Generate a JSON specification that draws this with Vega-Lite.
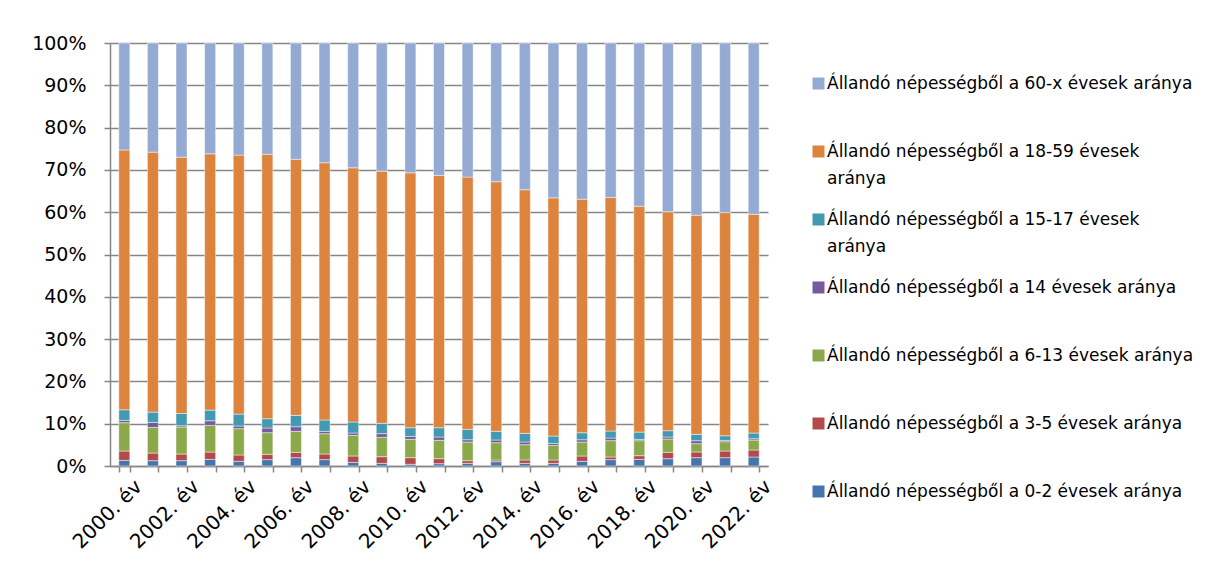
{
  "$schema": "https://vega.github.io/schema/vega-lite/v6.json",
  "width": 658,
  "height": 423,
  "autosize": {"type": "none"},
  "padding": {"left": 110, "top": 43, "right": 441, "bottom": 115},
  "background": "white",
  "config": {"font": "DejaVu Sans", "view": {"stroke": null}, "style": {"guide-label": {"lineHeight": 27}}},
  "data": {"values": [
    {"ev":"2000. év","kor":"0-2","o":0,"v":1.34},{"ev":"2000. év","kor":"3-5","o":1,"v":2.2},{"ev":"2000. év","kor":"6-13","o":2,"v":6.7},{"ev":"2000. év","kor":"14","o":3,"v":0.55},{"ev":"2000. év","kor":"15-17","o":4,"v":2.5},{"ev":"2000. év","kor":"18-59","o":5,"v":61.4},{"ev":"2000. év","kor":"60-x","o":6,"v":25.3},
    {"ev":"2001. év","kor":"0-2","o":0,"v":1.26},{"ev":"2001. év","kor":"3-5","o":1,"v":1.8},{"ev":"2001. év","kor":"6-13","o":2,"v":6.06},{"ev":"2001. év","kor":"14","o":3,"v":1.18},{"ev":"2001. év","kor":"15-17","o":4,"v":2.44},{"ev":"2001. év","kor":"18-59","o":5,"v":61.45},{"ev":"2001. év","kor":"60-x","o":6,"v":25.8},
    {"ev":"2002. év","kor":"0-2","o":0,"v":1.26},{"ev":"2002. év","kor":"3-5","o":1,"v":1.57},{"ev":"2002. év","kor":"6-13","o":2,"v":6.38},{"ev":"2002. év","kor":"14","o":3,"v":0.31},{"ev":"2002. év","kor":"15-17","o":4,"v":2.9},{"ev":"2002. év","kor":"18-59","o":5,"v":60.6},{"ev":"2002. év","kor":"60-x","o":6,"v":27.0},
    {"ev":"2003. év","kor":"0-2","o":0,"v":1.57},{"ev":"2003. év","kor":"3-5","o":1,"v":1.73},{"ev":"2003. év","kor":"6-13","o":2,"v":6.3},{"ev":"2003. év","kor":"14","o":3,"v":1.1},{"ev":"2003. év","kor":"15-17","o":4,"v":2.52},{"ev":"2003. év","kor":"18-59","o":5,"v":60.6},{"ev":"2003. év","kor":"60-x","o":6,"v":26.2},
    {"ev":"2004. év","kor":"0-2","o":0,"v":1.1},{"ev":"2004. év","kor":"3-5","o":1,"v":1.5},{"ev":"2004. év","kor":"6-13","o":2,"v":6.22},{"ev":"2004. év","kor":"14","o":3,"v":0.63},{"ev":"2004. év","kor":"15-17","o":4,"v":2.83},{"ev":"2004. év","kor":"18-59","o":5,"v":61.2},{"ev":"2004. év","kor":"60-x","o":6,"v":26.5},
    {"ev":"2005. év","kor":"0-2","o":0,"v":1.5},{"ev":"2005. év","kor":"3-5","o":1,"v":1.26},{"ev":"2005. év","kor":"6-13","o":2,"v":5.12},{"ev":"2005. év","kor":"14","o":3,"v":1.1},{"ev":"2005. év","kor":"15-17","o":4,"v":2.2},{"ev":"2005. év","kor":"18-59","o":5,"v":62.5},{"ev":"2005. év","kor":"60-x","o":6,"v":26.3},
    {"ev":"2006. év","kor":"0-2","o":0,"v":1.97},{"ev":"2006. év","kor":"3-5","o":1,"v":1.26},{"ev":"2006. év","kor":"6-13","o":2,"v":4.96},{"ev":"2006. év","kor":"14","o":3,"v":1.1},{"ev":"2006. év","kor":"15-17","o":4,"v":2.68},{"ev":"2006. év","kor":"18-59","o":5,"v":60.5},{"ev":"2006. év","kor":"60-x","o":6,"v":27.5},
    {"ev":"2007. év","kor":"0-2","o":0,"v":1.5},{"ev":"2007. év","kor":"3-5","o":1,"v":1.34},{"ev":"2007. év","kor":"6-13","o":2,"v":4.8},{"ev":"2007. év","kor":"14","o":3,"v":0.55},{"ev":"2007. év","kor":"15-17","o":4,"v":2.68},{"ev":"2007. év","kor":"18-59","o":5,"v":60.8},{"ev":"2007. év","kor":"60-x","o":6,"v":28.3},
    {"ev":"2008. év","kor":"0-2","o":0,"v":0.87},{"ev":"2008. év","kor":"3-5","o":1,"v":1.5},{"ev":"2008. év","kor":"6-13","o":2,"v":4.88},{"ev":"2008. év","kor":"14","o":3,"v":0.55},{"ev":"2008. év","kor":"15-17","o":4,"v":2.6},{"ev":"2008. év","kor":"18-59","o":5,"v":60.1},{"ev":"2008. év","kor":"60-x","o":6,"v":29.5},
    {"ev":"2009. év","kor":"0-2","o":0,"v":0.63},{"ev":"2009. év","kor":"3-5","o":1,"v":1.57},{"ev":"2009. év","kor":"6-13","o":2,"v":4.57},{"ev":"2009. év","kor":"14","o":3,"v":0.87},{"ev":"2009. év","kor":"15-17","o":4,"v":2.44},{"ev":"2009. év","kor":"18-59","o":5,"v":59.6},{"ev":"2009. év","kor":"60-x","o":6,"v":30.3},
    {"ev":"2010. év","kor":"0-2","o":0,"v":0.4},{"ev":"2010. év","kor":"3-5","o":1,"v":1.57},{"ev":"2010. év","kor":"6-13","o":2,"v":4.33},{"ev":"2010. év","kor":"14","o":3,"v":0.7},{"ev":"2010. év","kor":"15-17","o":4,"v":2.05},{"ev":"2010. év","kor":"18-59","o":5,"v":60.25},{"ev":"2010. év","kor":"60-x","o":6,"v":30.7},
    {"ev":"2011. év","kor":"0-2","o":0,"v":0.55},{"ev":"2011. év","kor":"3-5","o":1,"v":1.18},{"ev":"2011. év","kor":"6-13","o":2,"v":4.33},{"ev":"2011. év","kor":"14","o":3,"v":0.79},{"ev":"2011. év","kor":"15-17","o":4,"v":2.2},{"ev":"2011. év","kor":"18-59","o":5,"v":59.65},{"ev":"2011. év","kor":"60-x","o":6,"v":31.3},
    {"ev":"2012. év","kor":"0-2","o":0,"v":0.63},{"ev":"2012. év","kor":"3-5","o":1,"v":0.63},{"ev":"2012. év","kor":"6-13","o":2,"v":4.4},{"ev":"2012. év","kor":"14","o":3,"v":0.55},{"ev":"2012. év","kor":"15-17","o":4,"v":2.44},{"ev":"2012. év","kor":"18-59","o":5,"v":59.65},{"ev":"2012. év","kor":"60-x","o":6,"v":31.7},
    {"ev":"2013. év","kor":"0-2","o":0,"v":1.02},{"ev":"2013. év","kor":"3-5","o":1,"v":0.4},{"ev":"2013. év","kor":"6-13","o":2,"v":4.1},{"ev":"2013. év","kor":"14","o":3,"v":0.63},{"ev":"2013. év","kor":"15-17","o":4,"v":2.05},{"ev":"2013. év","kor":"18-59","o":5,"v":59.0},{"ev":"2013. év","kor":"60-x","o":6,"v":32.8},
    {"ev":"2014. év","kor":"0-2","o":0,"v":0.63},{"ev":"2014. év","kor":"3-5","o":1,"v":0.79},{"ev":"2014. év","kor":"6-13","o":2,"v":3.62},{"ev":"2014. év","kor":"14","o":3,"v":0.63},{"ev":"2014. év","kor":"15-17","o":4,"v":2.05},{"ev":"2014. év","kor":"18-59","o":5,"v":57.6},{"ev":"2014. év","kor":"60-x","o":6,"v":34.7},
    {"ev":"2015. év","kor":"0-2","o":0,"v":0.63},{"ev":"2015. év","kor":"3-5","o":1,"v":0.79},{"ev":"2015. év","kor":"6-13","o":2,"v":3.46},{"ev":"2015. év","kor":"14","o":3,"v":0.47},{"ev":"2015. év","kor":"15-17","o":4,"v":1.73},{"ev":"2015. év","kor":"18-59","o":5,"v":56.3},{"ev":"2015. év","kor":"60-x","o":6,"v":36.6},
    {"ev":"2016. év","kor":"0-2","o":0,"v":1.1},{"ev":"2016. év","kor":"3-5","o":1,"v":1.26},{"ev":"2016. év","kor":"6-13","o":2,"v":3.3},{"ev":"2016. év","kor":"14","o":3,"v":0.55},{"ev":"2016. év","kor":"15-17","o":4,"v":1.65},{"ev":"2016. év","kor":"18-59","o":5,"v":55.2},{"ev":"2016. év","kor":"60-x","o":6,"v":36.9},
    {"ev":"2017. év","kor":"0-2","o":0,"v":1.5},{"ev":"2017. év","kor":"3-5","o":1,"v":0.63},{"ev":"2017. év","kor":"6-13","o":2,"v":3.86},{"ev":"2017. év","kor":"14","o":3,"v":0.63},{"ev":"2017. év","kor":"15-17","o":4,"v":1.65},{"ev":"2017. év","kor":"18-59","o":5,"v":55.2},{"ev":"2017. év","kor":"60-x","o":6,"v":36.5},
    {"ev":"2018. év","kor":"0-2","o":0,"v":1.57},{"ev":"2018. év","kor":"3-5","o":1,"v":0.87},{"ev":"2018. év","kor":"6-13","o":2,"v":3.54},{"ev":"2018. év","kor":"14","o":3,"v":0.31},{"ev":"2018. év","kor":"15-17","o":4,"v":1.73},{"ev":"2018. év","kor":"18-59","o":5,"v":53.4},{"ev":"2018. év","kor":"60-x","o":6,"v":38.6},
    {"ev":"2019. év","kor":"0-2","o":0,"v":1.73},{"ev":"2019. év","kor":"3-5","o":1,"v":1.5},{"ev":"2019. év","kor":"6-13","o":2,"v":3.15},{"ev":"2019. év","kor":"14","o":3,"v":0.47},{"ev":"2019. év","kor":"15-17","o":4,"v":1.5},{"ev":"2019. év","kor":"18-59","o":5,"v":51.75},{"ev":"2019. év","kor":"60-x","o":6,"v":39.9},
    {"ev":"2020. év","kor":"0-2","o":0,"v":1.97},{"ev":"2020. év","kor":"3-5","o":1,"v":1.34},{"ev":"2020. év","kor":"6-13","o":2,"v":1.97},{"ev":"2020. év","kor":"14","o":3,"v":0.7},{"ev":"2020. év","kor":"15-17","o":4,"v":1.5},{"ev":"2020. év","kor":"18-59","o":5,"v":51.8},{"ev":"2020. év","kor":"60-x","o":6,"v":40.7},
    {"ev":"2021. év","kor":"0-2","o":0,"v":1.97},{"ev":"2021. év","kor":"3-5","o":1,"v":1.57},{"ev":"2021. év","kor":"6-13","o":2,"v":2.2},{"ev":"2021. év","kor":"14","o":3,"v":0.31},{"ev":"2021. év","kor":"15-17","o":4,"v":1.1},{"ev":"2021. év","kor":"18-59","o":5,"v":52.75},{"ev":"2021. év","kor":"60-x","o":6,"v":40.1},
    {"ev":"2022. év","kor":"0-2","o":0,"v":2.13},{"ev":"2022. év","kor":"3-5","o":1,"v":1.65},{"ev":"2022. év","kor":"6-13","o":2,"v":2.36},{"ev":"2022. év","kor":"14","o":3,"v":0.31},{"ev":"2022. év","kor":"15-17","o":4,"v":1.34},{"ev":"2022. év","kor":"18-59","o":5,"v":51.7},{"ev":"2022. év","kor":"60-x","o":6,"v":40.5}
  ]},
  "mark": {"type": "bar", "stroke": "white", "strokeOpacity": 0.45, "strokeWidth": 1},
  "encoding": {
    "x": {
      "field": "ev", "type": "nominal", "sort": null,
      "scale": {"paddingInner": 0.615, "paddingOuter": 0.3075},
      "axis": {
        "title": null, "tickBand": "extent", "tickSize": 6, "tickColor": "#868686", "tickWidth": 1.5,
        "domainColor": "#868686", "domainWidth": 1.5, "grid": false,
        "labelAngle": -45, "labelFontSize": 20, "labelColor": "black", "labelOverlap": false, "labelPadding": 4, "labelOffset": 7,
        "labelExpr": "toNumber(slice(datum.label,0,4)) % 2 == 0 ? datum.label : ''"
      }
    },
    "y": {
      "field": "v", "type": "quantitative", "stack": "normalize",
      "scale": {"domain": [0, 1], "nice": false},
      "axis": {
        "title": null, "format": ".0%", "values": [0,0.1,0.2,0.3,0.4,0.5,0.6,0.7,0.8,0.9,1],
        "grid": true, "gridColor": "#868686", "gridWidth": 1.5,
        "domainColor": "#868686", "domainWidth": 1.5, "tickColor": "#868686", "tickWidth": 1.5, "tickSize": 6,
        "labelFontSize": 19, "labelColor": "black", "labelPadding": 18
      }
    },
    "order": {"field": "o", "type": "quantitative"},
    "color": {
      "field": "kor", "type": "nominal",
      "scale": {
        "domain": ["60-x","18-59","15-17","14","6-13","3-5","0-2"],
        "range": ["#95AAD3","#DC843E","#4299B0","#765A9E","#8BA84B","#B24A4B","#4674AD"]
      },
      "legend": {
        "title": null, "orient": "none", "legendX": 700, "legendY": 32, "padding": 0,
        "symbolType": "square", "symbolSize": 144, "symbolStrokeWidth": 0, "symbolOpacity": 1,
        "labelFontSize": 17, "labelColor": "black", "labelOffset": 0, "labelLimit": 500, "rowPadding": 23,
        "labelBaseline": "middle",
        "labelExpr": "datum.label == '18-59' || datum.label == '15-17' ? ['Állandó népességből a ' + datum.label + ' évesek', 'aránya'] : ['Állandó népességből a ' + datum.label + ' évesek aránya', '']",
        "encode": {"labels": {"update": {"dy": {"value": 13.5}, "lineHeight": {"value": 27}}}}
      }
    }
  }
}
